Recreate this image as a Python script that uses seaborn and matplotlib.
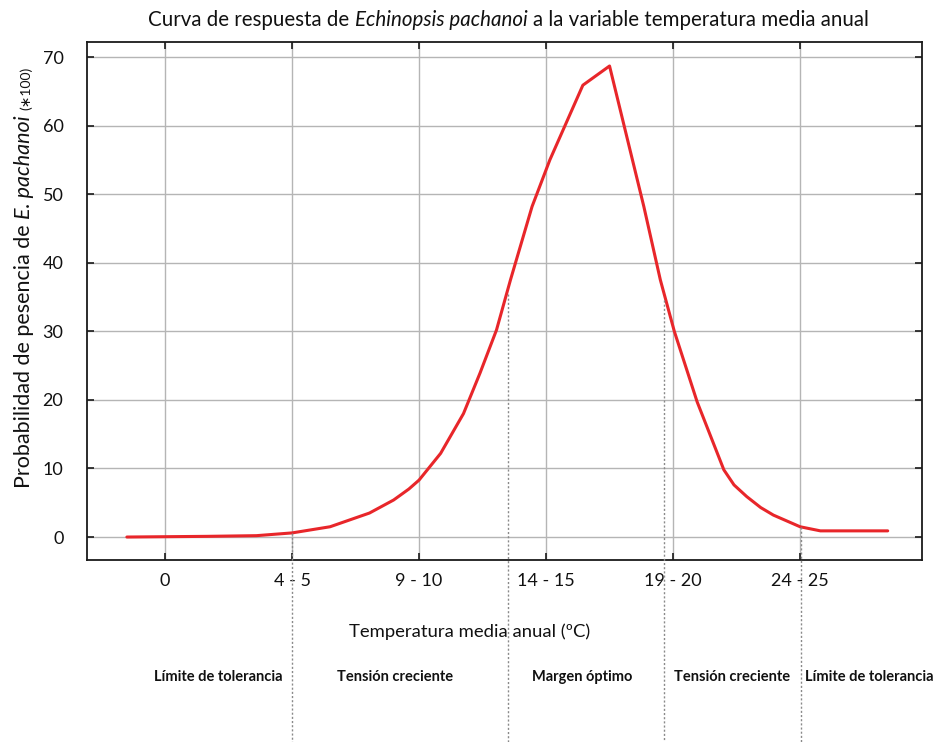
import matplotlib
matplotlib.use("Agg")
import matplotlib.pyplot as plt
from matplotlib.transforms import IdentityTransform
import seaborn as sns
import pandas as pd

# curve (x in tick-index units: 0 -> "0", 1 -> "4 - 5", ...)
temp_pos = [-0.30, 0.33, 0.72, 1.00, 1.30, 1.61, 1.80, 1.92, 2.00, 2.17, 2.35, 2.48,
            2.61, 2.72, 2.89, 3.03, 3.29, 3.50, 3.77, 3.90, 4.01, 4.19, 4.40,
            4.48, 4.58, 4.69, 4.79, 5.00, 5.16, 5.69]
prob = [0.0, 0.1, 0.2, 0.6, 1.5, 3.5, 5.4, 7.0, 8.3, 12.2, 18.0, 23.9,
        30.2, 37.5, 48.2, 55.0, 65.9, 68.7, 48.2, 37.5, 30.0, 19.7, 9.8,
        7.6, 5.9, 4.3, 3.2, 1.5, 0.9, 0.9]
tick_labels = ["0", "4 - 5", "9 - 10", "14 - 15", "19 - 20", "24 - 25"]
zone_bounds = [1.0, 2.70, 3.93, 5.01]
zone_tops = [0.6, 35.5, 34.5, 1.5]
zone_names = ["Límite de tolerancia", "Tensión creciente", "Margen óptimo",
              "Tensión creciente", "Límite de tolerancia"]
zone_centers_px = [218, 395, 582, 732, 869]

df = pd.DataFrame({"temp": temp_pos, "prob": prob})

sns.set_theme(style="ticks")
plt.rcParams["font.family"] = ["Lato", "DejaVu Sans"]

W, H = 936, 742
fig = plt.figure(figsize=(W / 100, H / 100), dpi=100)
ax = fig.add_axes([87 / W, 1 - 560 / H, (922 - 87) / W, (560 - 42) / H])

sns.lineplot(data=df, x="temp", y="prob", ax=ax, color="#e8262a", linewidth=2.2, sort=False)

ax.set_xlim(-0.614, 5.96)
ax.set_ylim(-3.35, 72.2)
ax.set_xticks(range(len(tick_labels)))
ax.set_xticklabels(tick_labels)
ax.set_yticks(range(0, 71, 10))
ax.grid(True, color="#b5b5b5", linewidth=1.0)
ax.set_axisbelow(True)
ax.tick_params(direction="in", length=5, width=1.2, color="#1a1a1a",
               labelcolor="#111111", top=True, right=True, labelsize=13)
ax.tick_params(axis="x", pad=9)
ax.tick_params(axis="y", pad=17)
for s in ax.spines.values():
    s.set_linewidth(1.3)
    s.set_color("#1a1a1a")
ax.set_xlabel("")
ax.set_ylabel("")

# dotted boundaries running from the curve down past the axes
ax.vlines(zone_bounds, zone_tops, -30, colors="#8a8a8a", linestyles=(0, (1.5, 1.5)),
          linewidth=1.0, clip_on=False, zorder=3)

fig.text(470 / W, 1 - 632 / H, "Temperatura media anual (ºC)", ha="center", va="center",
         fontsize=13.3, color="#111111")
for name, cx in zip(zone_names, zone_centers_px):
    fig.text(cx / W, 1 - 677 / H, name, ha="center", va="center", fontsize=10.5,
             fontweight="bold", color="#111111")

renderer = fig.canvas.get_renderer()


def pieces(x, y, parts, rotation=0):
    for s, size, style, gap in parts:
        t = fig.text(x, y, s, transform=IdentityTransform(), rotation=rotation,
                     rotation_mode="anchor", ha="left", va="baseline",
                     fontsize=size, fontstyle=style, color="#111111")
        bb = t.get_window_extent(renderer)
        if rotation == 0:
            x = bb.x1 + gap
        else:
            y = bb.y1 + gap


pieces(148, H - 26, [("Curva de respuesta de", 14.8, "normal", 5.5),
                     ("Echinopsis pachanoi", 14.8, "italic", 5.5),
                     ("a la variable temperatura media anual", 14.8, "normal", 0)])
pieces(30, H - 488, [("Probabilidad de pesencia de", 15.5, "normal", 5.5),
                     ("E. pachanoi", 15.5, "italic", 5),
                     ("(∗100)", 10, "normal", 0)], rotation=90)

fig.savefig("out.png", dpi=100)
